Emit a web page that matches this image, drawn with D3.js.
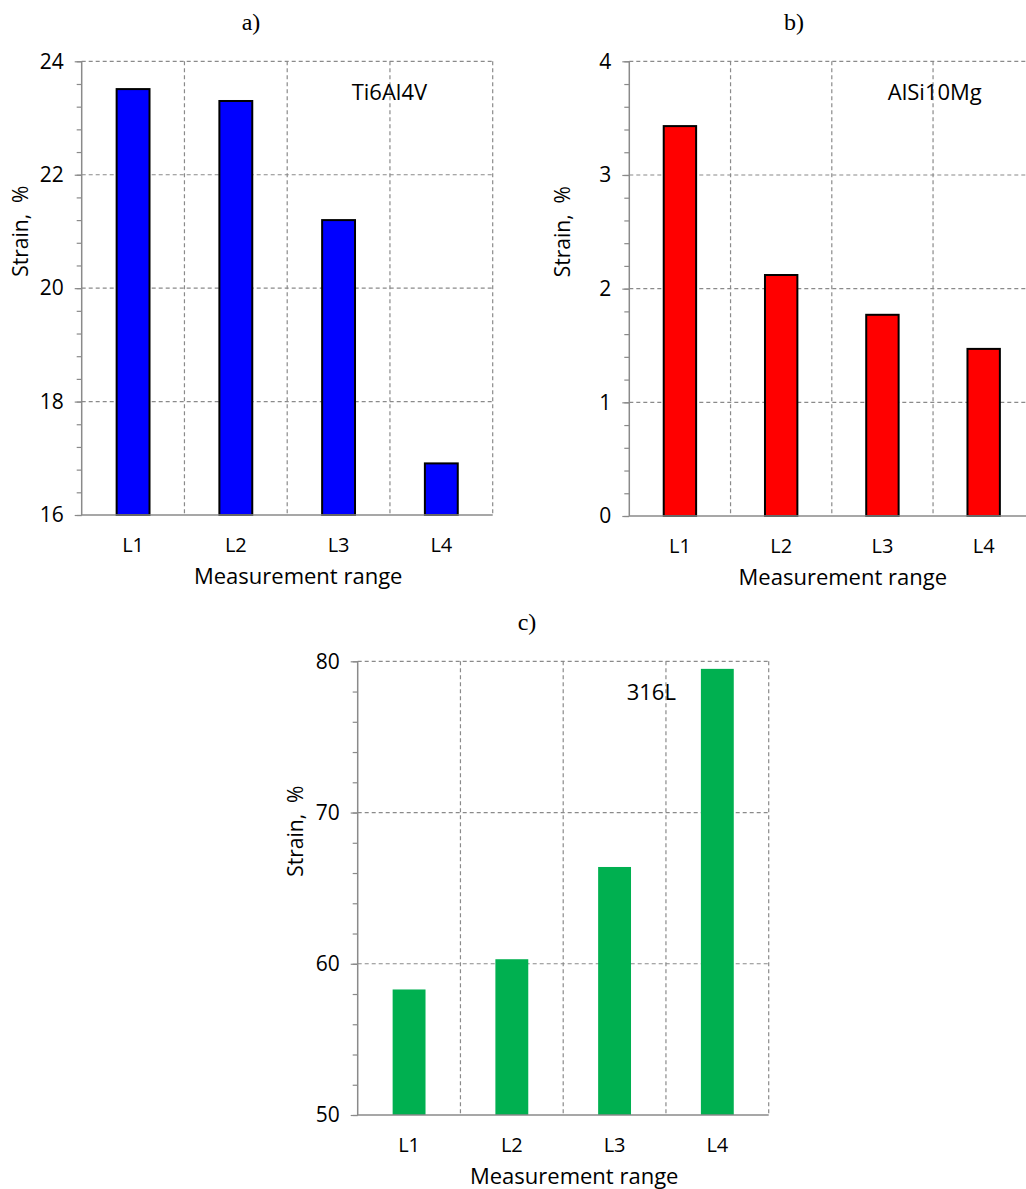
<!DOCTYPE html>
<html>
<head>
<meta charset="utf-8">
<script src="https://cdn.jsdelivr.net/npm/d3@7"></script>
<style>
  body { margin: 0; background: #fff; }
  svg { display: block; }
</style>
</head>
<body>
<div id="plot"></div>
<script>
// data
var categories = ["L1", "L2", "L3", "L4"];
var ti6al4v = [23.51, 23.3, 21.2, 16.91];
var alsi10mg = [3.43, 2.12, 1.77, 1.47];
var steel316l = [58.3, 60.3, 66.4, 79.5];

var ticksA = [16, 18, 20, 22, 24];
var ticksB = [0, 1, 2, 3, 4];
var ticksC = [50, 60, 70, 80];

var W = 1026, H = 1189;
var font = "'Open Sans', sans-serif";

var svg = d3.select("#plot").append("svg")
  .attr("width", W)
  .attr("height", H);

var panels = [
  {tag: "a)", name: "Ti6Al4V", values: ti6al4v, ticks: ticksA, minor: 0.4,
   left: 81.7, top: 61.3, width: 411, height: 453.7, fill: "#0000ff", stroke: "#000",
   tagX: 251, tagY: 30, nameX: 270, labelX: -61},
  {tag: "b)", name: "AlSi10Mg", values: alsi10mg, ticks: ticksB, minor: 0.2,
   left: 629.3, top: 61.3, width: 405, height: 454.7, fill: "#ff0000", stroke: "#000",
   tagX: 794, tagY: 30, nameX: 258.5, labelX: -66},
  {tag: "c)", name: "316L", values: steel316l, ticks: ticksC, minor: 2,
   left: 357.7, top: 661.3, width: 411, height: 453.7, fill: "#00b050", stroke: "none",
   tagX: 527, tagY: 630, nameX: 269, labelX: -62}
];

var gridColor = "#8a8a8a";

panels.forEach(function(p) {
  var lo = d3.min(p.ticks), hi = d3.max(p.ticks);
  var x = d3.scaleBand().domain(categories).range([0, p.width]);
  var y = d3.scaleLinear().domain([lo, hi]).range([p.height, 0]);

  // panel tag above the plot
  svg.append("text")
    .attr("x", p.tagX)
    .attr("y", p.tagY)
    .attr("text-anchor", "middle")
    .style("font-family", "'Liberation Serif', 'Times New Roman', serif")
    .style("font-size", "24px")
    .text(p.tag);

  var g = svg.append("g")
    .attr("transform", "translate(" + p.left + "," + p.top + ")");

  // horizontal dashed gridlines (skip the baseline)
  g.selectAll(".hgrid")
    .data(p.ticks.filter(function(d) { return d != lo; }))
    .enter()
    .append("line")
    .attr("x1", 0)
    .attr("x2", p.width)
    .attr("y1", function(d) { return y(d); })
    .attr("y2", function(d) { return y(d); })
    .attr("stroke", gridColor)
    .attr("stroke-width", 1.2)
    .attr("stroke-dasharray", "4,3");

  // vertical dashed gridlines at category boundaries
  g.selectAll(".vgrid")
    .data(categories)
    .enter()
    .append("line")
    .attr("x1", function(d) { return x(d) + x.bandwidth(); })
    .attr("x2", function(d) { return x(d) + x.bandwidth(); })
    .attr("y1", 0)
    .attr("y2", p.height)
    .attr("stroke", gridColor)
    .attr("stroke-width", 1.2)
    .attr("stroke-dasharray", "4,3");

  // bars
  var bw = x.bandwidth() * 0.32;
  g.selectAll(".bar")
    .data(p.values)
    .enter()
    .append("rect")
    .attr("x", function(d, i) { return x(categories[i]) + x.bandwidth() / 2 - bw / 2; })
    .attr("y", function(d) { return y(d); })
    .attr("width", bw)
    .attr("height", function(d) { return p.height - y(d); })
    .attr("fill", p.fill)
    .attr("stroke", p.stroke)
    .attr("stroke-width", 2);

  // minor ticks
  var minorTicks = d3.range(lo, hi + p.minor / 2, p.minor);
  g.append("g")
    .call(d3.axisLeft(y).tickValues(minorTicks).tickSize(5).tickFormat(""))
    .call(function(a) {
      a.select(".domain").remove();
      a.selectAll("line").attr("stroke", gridColor).attr("stroke-width", 1.2);
    });

  // major ticks + labels
  g.append("g")
    .call(d3.axisLeft(y).tickValues(p.ticks).tickSize(7).tickPadding(11).tickFormat(d3.format("d")))
    .call(function(a) {
      a.select(".domain").remove();
      a.selectAll("line").attr("stroke", gridColor).attr("stroke-width", 1.2);
      a.selectAll("text")
        .attr("fill", "#000")
        .style("font-family", font)
        .style("font-size", "21px");
    });

  // axis lines
  g.append("line")
    .attr("x1", 0).attr("x2", 0)
    .attr("y1", 0).attr("y2", p.height)
    .attr("stroke", gridColor)
    .attr("stroke-width", 1.5);
  g.append("line")
    .attr("x1", 0).attr("x2", p.width)
    .attr("y1", p.height).attr("y2", p.height)
    .attr("stroke", gridColor)
    .attr("stroke-width", 1.5);

  // category labels
  g.selectAll(".cat")
    .data(categories)
    .enter()
    .append("text")
    .attr("x", function(d) { return x(d) + x.bandwidth() / 2; })
    .attr("y", p.height + 37)
    .attr("text-anchor", "middle")
    .attr("fill", "#000")
    .style("font-family", font)
    .style("font-size", "20px")
    .text(function(d) { return d; });

  // x axis title
  g.append("text")
    .attr("x", p.width / 2 + 11)
    .attr("y", p.height + 69)
    .attr("text-anchor", "middle")
    .attr("fill", "#000")
    .style("font-family", font)
    .style("font-size", "22px")
    .text("Measurement range");

  // y axis title
  g.append("text")
    .attr("transform", "translate(" + (p.labelX + 7) + "," + (p.height / 2 - 57) + ") rotate(-90)")
    .attr("text-anchor", "middle")
    .attr("fill", "#000")
    .style("font-family", font)
    .style("font-size", "21px")
    .style("white-space", "pre")
    .text("Strain,  %");

  // material label
  g.append("text")
    .attr("x", p.nameX)
    .attr("y", 38.7)
    .attr("fill", "#000")
    .style("font-family", font)
    .style("font-size", "22px")
    .text(p.name);
});
</script>
</body>
</html>
